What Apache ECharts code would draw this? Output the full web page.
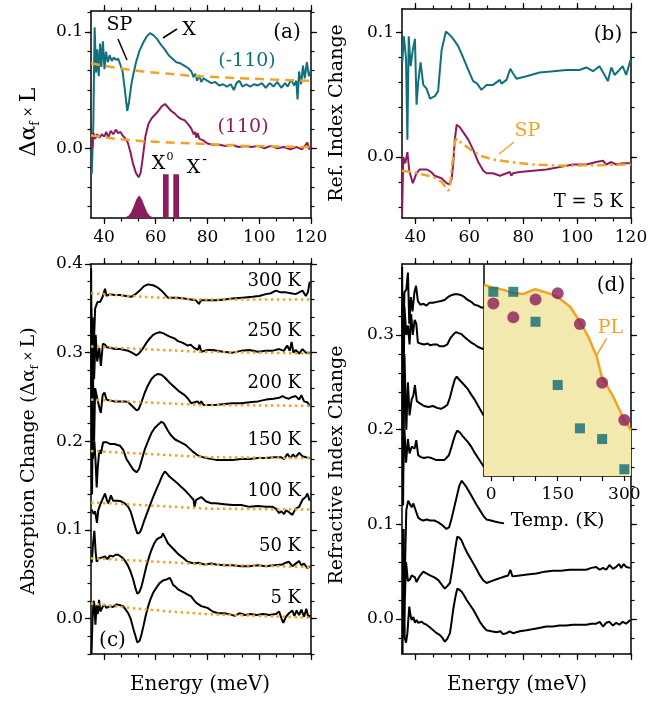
<!DOCTYPE html>
<html>
<head>
<meta charset="utf-8">
<script src="https://cdn.jsdelivr.net/npm/echarts@6/dist/echarts.min.js"></script>
<style>
  body { margin: 0; background: #fff; }
  #chart { width: 672px; height: 702px; }
</style>
</head>
<body>
<div id="chart"></div>
<script>
// ---- data ----
// (a) absorption change at 5 K, energy (meV) vs value
const aTeal = [[35.3,-0.022],[35.9,0.02],[36.4,0.104],[37.0,0.065],[37.4,0.085],[38.0,0.062],[38.5,0.090],[39.0,0.070],[39.6,0.092],[40.2,0.068],[40.8,0.083],[41.5,0.074],[42.2,0.080],[43.0,0.075],[43.8,0.078],[44.6,0.076],[45.5,0.077],[46.3,0.072],[47.2,0.066],[48.1,0.050],[49.0,0.032],[49.7,0.040],[50.6,0.055],[51.4,0.064],[52.4,0.074],[53.6,0.083],[55.0,0.090],[56.5,0.096],[57.8,0.099],[59.2,0.097],[60.5,0.094],[62.0,0.089],[63.5,0.085],[65.0,0.080],[66.5,0.077],[68.0,0.074],[69.5,0.073],[71.0,0.071],[72.5,0.069],[73.8,0.066],[74.6,0.061],[75.3,0.064],[76.0,0.058],[76.8,0.063],[77.6,0.057],[78.5,0.060],[80.0,0.058],[81.5,0.056],[83.0,0.057],[84.5,0.054],[86.0,0.055],[87.5,0.053],[89.0,0.055],[90.2,0.050],[91.2,0.056],[92.3,0.058],[93.5,0.053],[95.0,0.055],[96.5,0.053],[98.0,0.055],[99.5,0.054],[101.0,0.056],[102.5,0.052],[104.0,0.056],[105.5,0.053],[107.0,0.057],[108.5,0.052],[110.0,0.056],[111.0,0.053],[112.3,0.059],[113.5,0.054],[114.3,0.058],[114.8,0.042],[115.4,0.066],[116.2,0.055],[116.9,0.071],[117.6,0.060],[118.4,0.074],[119.2,0.062],[120,0.067]];
const aPurple = [[35.5,0.0],[36.0,0.013],[36.6,0.008],[37.4,0.012],[38.3,0.009],[39.2,0.012],[40.1,0.010],[40.9,0.014],[41.7,0.009],[42.6,0.015],[43.6,0.012],[44.6,0.016],[45.5,0.013],[46.4,0.014],[47.2,0.011],[48.1,0.009],[49.2,0.005],[50.2,-0.003],[51.2,-0.013],[52.3,-0.021],[53.4,-0.025],[54.2,-0.021],[55.0,-0.008],[56.0,0.010],[57.2,0.021],[58.5,0.026],[59.8,0.029],[61.0,0.032],[62.3,0.036],[63.6,0.038],[64.8,0.035],[66.0,0.032],[67.3,0.030],[68.6,0.027],[69.9,0.025],[71.2,0.024],[72.4,0.021],[73.7,0.017],[74.7,0.012],[75.2,0.014],[75.7,0.009],[76.2,0.013],[76.9,0.008],[78.2,0.007],[80.0,0.004],[82.0,0.003],[84.5,0.003],[87.0,0.002],[89.5,0.003],[92.0,0.001],[94.5,0.002],[97.0,0.001],[99.5,0.002],[102.0,0.000],[104.5,0.002],[107.0,0.000],[109.5,0.001],[112.0,-0.001],[114.5,0.001],[116.5,-0.001],[118.0,0.003],[118.6,0.005],[119.3,-0.001],[120,0.002]];
const aTealSP = [[35,0.073],[45,0.069],[55,0.066],[65,0.064],[75,0.062],[85,0.061],[95,0.060],[105,0.059],[120,0.058]];
const aPurpleSP = [[35,0.011],[45,0.008],[55,0.006],[65,0.005],[75,0.004],[85,0.003],[95,0.002],[105,0.0015],[120,0.001]];
const aPL = [[46.5,-0.06],[48,-0.0595],[49.5,-0.058],[50.5,-0.055],[51.5,-0.050],[52.5,-0.044],[53.6,-0.0405],[54.7,-0.044],[55.7,-0.050],[56.7,-0.055],[57.7,-0.058],[59,-0.0595],[60.5,-0.06]];
const aX0 = [[62.8,-0.06],[62.8,-0.0224],[65.0,-0.0224],[65.0,-0.06]];
const aXm = [[66.8,-0.06],[66.8,-0.0224],[69.0,-0.0224],[69.0,-0.06]];

// (b) refractive index change at 5 K
const bTeal = [[35.1,0.076],[35.7,0.097],[36.5,0.079],[37.0,0.014],[37.5,0.097],[38.2,0.073],[39.0,0.086],[39.8,0.095],[40.4,0.042],[41.0,0.060],[41.9,0.076],[42.9,0.058],[44.1,0.055],[45.4,0.047],[47.2,0.049],[48.4,0.053],[49.7,0.086],[51.3,0.101],[52.8,0.098],[54.0,0.095],[55.9,0.089],[57.7,0.080],[59.6,0.070],[61.4,0.061],[62.9,0.059],[64.5,0.054],[66.4,0.058],[68.8,0.058],[71.3,0.062],[71.9,0.059],[73.8,0.062],[75.2,0.071],[76.0,0.068],[77.5,0.063],[81.2,0.065],[86.1,0.068],[91.1,0.069],[96.0,0.070],[100.9,0.070],[103.4,0.072],[105.9,0.069],[108.3,0.073],[110.2,0.066],[111.4,0.061],[112.7,0.072],[113.9,0.066],[115.7,0.070],[116.9,0.073],[118.2,0.066],[119.8,0.078]];
const bPurple = [[35.0,-0.048],[35.5,0.0],[36.2,-0.005],[37.0,0.004],[37.7,-0.011],[39.0,-0.021],[40.4,-0.013],[41.6,-0.010],[44.1,-0.010],[45.8,-0.012],[47.1,-0.015],[49.7,-0.017],[51.6,-0.021],[52.5,-0.022],[53.4,-0.018],[54.0,-0.006],[54.6,0.014],[55.3,0.026],[56.5,0.024],[57.7,0.020],[59.6,0.014],[61.4,0.006],[63.3,-0.004],[65.2,-0.011],[66.4,-0.013],[68.8,-0.013],[71.3,-0.015],[73.8,-0.013],[75.0,-0.012],[75.6,-0.015],[76.2,-0.013],[78.7,-0.012],[83.6,-0.011],[88.6,-0.010],[93.5,-0.008],[98.5,-0.006],[103.4,-0.006],[107.1,-0.004],[109.6,-0.003],[110.8,-0.006],[112.7,-0.004],[114.5,-0.006],[116.9,-0.005],[119.8,-0.005]];
const bSP = [[34.9,-0.011],[39.0,-0.012],[42.7,-0.014],[46.5,-0.016],[49.7,-0.020],[52.2,-0.027],[52.8,-0.025],[53.4,-0.010],[54.0,0.0],[54.6,0.012],[55.3,0.015],[56.7,0.012],[60.4,0.006],[64.1,0.001],[69.0,-0.002],[75.2,-0.004],[83.8,-0.006],[96.2,-0.007],[120,-0.006]];

// (c) absorption change vs temperature (offset curves)
const c300 = [[35.05,0.395],[35.3,0.260],[35.6,0.340],[36.0,0.300],[36.6,0.350],[37.5,0.357],[38.5,0.357],[39.5,0.363],[40.4,0.372],[41.0,0.364],[42.3,0.366],[44.0,0.365],[46.2,0.365],[48.5,0.364],[50.5,0.363],[52.2,0.366],[53.8,0.370],[55.5,0.375],[57.0,0.377],[59.0,0.376],[60.5,0.374],[62.2,0.370],[63.5,0.366],[64.7,0.362],[66.5,0.362],[68.5,0.362],[71.0,0.361],[73.5,0.360],[75.5,0.359],[76.7,0.355],[77.5,0.359],[79.5,0.359],[83.3,0.359],[86.5,0.360],[89.7,0.361],[93.5,0.362],[97.4,0.363],[100.0,0.364],[102.6,0.366],[104.5,0.367],[106.4,0.370],[108.3,0.368],[110.3,0.368],[112.2,0.367],[114.1,0.366],[115.4,0.368],[116.7,0.370],[118.0,0.364],[118.8,0.368],[119.5,0.380]];
const c250 = [[35.1,0.350],[35.4,0.210],[35.8,0.330],[36.2,0.270],[36.8,0.320],[37.4,0.290],[38.2,0.305],[38.8,0.285],[39.6,0.310],[40.4,0.309],[41.2,0.306],[43.0,0.305],[44.5,0.304],[46.2,0.304],[48.1,0.303],[49.4,0.302],[50.8,0.300],[52.6,0.297],[53.8,0.300],[55.1,0.305],[56.4,0.311],[57.7,0.316],[59.0,0.320],[60.3,0.322],[61.5,0.323],[62.8,0.322],[64.1,0.320],[65.4,0.318],[67.3,0.316],[68.6,0.313],[70.5,0.311],[72.4,0.308],[73.5,0.309],[75.0,0.305],[76.3,0.303],[76.9,0.309],[77.6,0.301],[80.0,0.303],[82.0,0.303],[86.0,0.301],[89.7,0.300],[93.0,0.302],[96.2,0.303],[99.5,0.301],[102.6,0.302],[105.0,0.302],[107.7,0.304],[109.5,0.302],[110.8,0.308],[111.8,0.302],[112.5,0.312],[113.2,0.300],[114.1,0.303],[115.4,0.299],[116.7,0.304],[118.0,0.300],[119.5,0.300]];
const c200 = [[35.1,0.290],[35.4,0.140],[35.8,0.270],[36.2,0.200],[36.6,0.260],[37.3,0.250],[38.2,0.238],[38.8,0.232],[39.5,0.252],[40.2,0.255],[41.0,0.247],[42.3,0.246],[44.0,0.245],[46.2,0.245],[48.1,0.245],[49.4,0.244],[50.8,0.240],[52.6,0.235],[53.4,0.236],[54.5,0.244],[55.8,0.255],[57.0,0.263],[58.3,0.270],[59.6,0.274],[60.9,0.276],[62.2,0.275],[63.5,0.272],[65.4,0.266],[67.3,0.261],[69.2,0.256],[71.2,0.252],[72.5,0.248],[73.7,0.243],[75.0,0.244],[76.2,0.245],[76.9,0.242],[77.6,0.245],[78.5,0.241],[81.0,0.241],[83.3,0.241],[86.5,0.242],[89.7,0.243],[93.0,0.243],[96.2,0.244],[99.5,0.245],[102.6,0.247],[105.5,0.248],[107.7,0.249],[109.0,0.251],[110.3,0.249],[111.5,0.248],[112.8,0.250],[114.1,0.251],[115.4,0.247],[116.3,0.252],[117.3,0.245],[118.6,0.244],[119.5,0.240]];
const c150 = [[35.2,0.215],[35.7,0.180],[36.3,0.200],[36.8,0.175],[37.2,0.148],[37.6,0.170],[38.2,0.190],[38.8,0.186],[39.7,0.199],[41.0,0.199],[42.3,0.197],[44.0,0.197],[46.2,0.195],[47.5,0.190],[48.7,0.180],[50.0,0.174],[51.3,0.168],[52.6,0.165],[53.6,0.169],[54.5,0.178],[55.8,0.191],[57.0,0.200],[58.3,0.209],[59.6,0.215],[61.0,0.219],[62.2,0.222],[63.2,0.220],[64.5,0.213],[65.8,0.207],[67.5,0.202],[69.5,0.199],[71.5,0.196],[73.0,0.192],[74.5,0.188],[75.8,0.185],[77.2,0.183],[79.5,0.181],[83.3,0.179],[86.5,0.179],[89.7,0.179],[93.0,0.180],[96.2,0.180],[99.5,0.181],[102.6,0.181],[105.8,0.182],[108.3,0.182],[109.6,0.180],[110.9,0.186],[112.0,0.181],[113.0,0.185],[114.1,0.182],[115.4,0.187],[116.7,0.183],[118.0,0.182],[119.5,0.181]];
const c100 = [[35.3,0.123],[36.0,0.118],[36.6,0.121],[37.3,0.108],[37.8,0.122],[38.5,0.128],[39.5,0.135],[40.4,0.141],[41.2,0.133],[41.7,0.130],[42.7,0.139],[43.5,0.133],[44.2,0.132],[45.5,0.133],[46.8,0.132],[48.0,0.130],[49.4,0.126],[50.4,0.120],[51.3,0.111],[52.2,0.102],[52.9,0.096],[53.8,0.097],[54.5,0.101],[55.5,0.110],[56.4,0.117],[57.7,0.127],[59.0,0.137],[60.3,0.146],[61.5,0.154],[62.5,0.161],[63.5,0.166],[64.5,0.163],[65.4,0.160],[67.0,0.156],[68.6,0.152],[70.0,0.148],[71.2,0.145],[72.5,0.141],[73.7,0.137],[74.6,0.134],[75.0,0.126],[75.6,0.134],[76.3,0.136],[77.6,0.137],[79.5,0.132],[81.5,0.130],[83.3,0.130],[86.5,0.129],[89.7,0.128],[93.0,0.128],[96.2,0.126],[99.5,0.127],[102.6,0.126],[105.2,0.126],[106.4,0.124],[107.7,0.119],[108.5,0.121],[109.6,0.118],[110.3,0.122],[111.5,0.120],[112.8,0.117],[114.1,0.124],[115.4,0.126],[116.7,0.134],[117.9,0.137],[118.6,0.141],[119.5,0.133]];
const c50 = [[35.3,0.063],[35.8,0.085],[36.3,0.099],[36.8,0.075],[37.2,0.064],[38.0,0.068],[38.5,0.066],[39.3,0.069],[40.4,0.070],[41.3,0.067],[42.3,0.071],[43.5,0.070],[44.5,0.072],[45.5,0.072],[46.5,0.070],[47.4,0.068],[48.4,0.064],[49.4,0.059],[50.4,0.052],[51.3,0.044],[52.2,0.034],[52.9,0.028],[53.7,0.030],[54.5,0.036],[55.5,0.048],[56.4,0.059],[57.4,0.069],[58.3,0.077],[59.3,0.084],[60.3,0.089],[61.3,0.091],[62.2,0.092],[62.8,0.096],[63.7,0.091],[64.7,0.085],[66.0,0.081],[67.3,0.077],[68.6,0.073],[69.9,0.070],[71.2,0.067],[72.4,0.064],[73.7,0.063],[75.0,0.062],[76.5,0.063],[78.8,0.061],[81.5,0.062],[83.3,0.061],[86.5,0.060],[89.7,0.060],[93.0,0.059],[96.2,0.059],[99.5,0.060],[102.6,0.059],[105.8,0.060],[109.0,0.061],[110.3,0.063],[111.5,0.064],[112.8,0.059],[114.1,0.062],[115.4,0.065],[116.3,0.060],[117.3,0.062],[118.6,0.057],[119.5,0.059]];
const c5 = [[35.2,-0.039],[35.6,0.000],[36.0,0.020],[36.3,0.016],[36.7,-0.007],[37.2,0.015],[37.6,0.005],[38.1,0.021],[38.6,0.008],[39.1,0.010],[40.0,0.016],[41.0,0.012],[42.3,0.014],[43.5,0.013],[44.9,0.016],[46.2,0.015],[47.4,0.014],[48.4,0.010],[49.4,0.006],[50.3,0.000],[51.3,-0.011],[52.2,-0.020],[52.9,-0.027],[53.8,-0.025],[54.5,-0.018],[55.3,-0.008],[56.2,0.004],[57.1,0.014],[58.0,0.022],[59.0,0.029],[60.3,0.035],[61.5,0.040],[62.8,0.043],[64.1,0.044],[65.4,0.046],[66.0,0.043],[66.7,0.038],[67.6,0.036],[68.6,0.033],[69.9,0.031],[71.2,0.029],[72.4,0.027],[73.7,0.025],[74.7,0.021],[75.6,0.018],[76.6,0.016],[77.6,0.014],[78.8,0.013],[80.0,0.012],[82.0,0.008],[84.0,0.006],[86.5,0.006],[88.5,0.005],[90.5,0.003],[92.5,0.006],[94.5,0.004],[96.5,0.005],[99.0,0.004],[101.5,0.005],[104.0,0.004],[106.4,0.005],[107.7,0.008],[108.6,0.000],[109.3,-0.005],[110.3,0.002],[111.5,0.006],[112.8,0.009],[113.6,0.003],[114.4,0.009],[115.4,0.004],[116.3,0.010],[117.3,0.002],[118.2,0.011],[119.0,0.001],[119.5,0.004]];
const cSP300 = [[35,0.367],[55,0.363],[77,0.360],[120,0.360]];
const cSP250 = [[35,0.307],[55,0.304],[77,0.301],[120,0.299]];
const cSP200 = [[35,0.247],[55,0.244],[77,0.241],[120,0.240]];
const cSP150 = [[35,0.189],[55,0.186],[80,0.182],[120,0.181]];
const cSP100 = [[35,0.131],[55,0.128],[80,0.124],[120,0.123]];
const cSP50 = [[35,0.068],[55,0.065],[80,0.061],[120,0.058]];
const cSP5 = [[35,0.017],[50,0.012],[65,0.008],[80,0.005],[100,0.003],[120,0.001]];
const cTemps = ['300 K', '250 K', '200 K', '150 K', '100 K', '50 K', '5 K'];

// (d) refractive index change vs temperature (offset curves)
const d300 = [[35.05,0.372],[35.3,0.260],[35.9,0.345],[36.6,0.348],[37.2,0.366],[37.7,0.312],[38.3,0.340],[38.9,0.325],[39.6,0.345],[40.2,0.352],[40.9,0.336],[41.8,0.332],[43.0,0.333],[44.0,0.331],[45.2,0.334],[46.5,0.334],[48.0,0.335],[49.5,0.336],[50.8,0.337],[52.0,0.340],[53.3,0.342],[54.5,0.343],[55.7,0.343],[57.0,0.342],[58.2,0.340],[59.4,0.337],[60.7,0.335],[61.9,0.332],[63.2,0.331],[64.5,0.329],[65.3,0.329]];
const d250 = [[35.1,0.330],[35.4,0.190],[35.9,0.330],[36.6,0.300],[37.2,0.310],[37.8,0.290],[38.4,0.322],[39.0,0.300],[39.7,0.316],[40.3,0.312],[40.9,0.292],[41.8,0.291],[43.2,0.290],[44.5,0.291],[45.5,0.289],[46.6,0.290],[47.9,0.290],[49.1,0.288],[50.5,0.288],[51.8,0.290],[53.0,0.297],[54.2,0.301],[55.1,0.303],[56.0,0.302],[57.0,0.301],[58.2,0.298],[59.4,0.295],[60.7,0.292],[61.9,0.290],[63.5,0.287],[65.3,0.285]];
const d200 = [[35.1,0.260],[35.4,0.120],[35.9,0.280],[36.6,0.200],[37.2,0.250],[37.8,0.215],[38.6,0.232],[39.2,0.236],[39.8,0.247],[40.5,0.230],[41.5,0.228],[43.2,0.225],[44.8,0.224],[46.5,0.225],[48.0,0.223],[49.5,0.222],[50.8,0.224],[51.8,0.226],[52.8,0.234],[53.8,0.245],[54.6,0.253],[55.3,0.256],[56.2,0.253],[57.5,0.249],[59.4,0.243],[60.7,0.237],[61.9,0.232],[63.5,0.224],[65.3,0.215]];
const d150 = [[35.3,0.150],[35.9,0.200],[36.5,0.165],[37.2,0.190],[37.8,0.175],[38.6,0.182],[39.7,0.180],[40.3,0.189],[41.0,0.173],[42.0,0.171],[43.2,0.170],[44.5,0.171],[46.0,0.170],[47.5,0.168],[49.0,0.168],[50.8,0.168],[52.4,0.173],[53.3,0.181],[54.0,0.188],[54.8,0.195],[55.5,0.199],[56.5,0.197],[57.6,0.193],[59.4,0.187],[60.7,0.182],[61.9,0.176],[63.5,0.169],[65.3,0.161]];
const d100 = [[35.3,0.080],[35.9,0.030],[36.6,0.115],[37.3,0.125],[38.0,0.121],[38.6,0.118],[39.2,0.122],[39.8,0.121],[40.4,0.112],[41.0,0.107],[42.0,0.105],[42.9,0.104],[44.2,0.105],[45.4,0.104],[47.0,0.104],[48.5,0.102],[50.0,0.099],[51.5,0.095],[52.5,0.097],[53.4,0.106],[54.4,0.118],[55.3,0.129],[56.2,0.140],[57.1,0.146],[58.0,0.143],[59.0,0.139],[60.2,0.133],[61.4,0.127],[62.6,0.121],[63.9,0.115],[65.2,0.109],[66.4,0.105],[68.0,0.104],[69.4,0.103],[71.0,0.102],[72.9,0.101]];
const d50 = [[35.3,0.095],[35.8,0.0],[36.5,0.060],[37.2,0.040],[38.0,0.042],[38.6,0.046],[39.2,0.048],[39.8,0.044],[40.4,0.039],[41.5,0.045],[42.9,0.050],[44.2,0.048],[45.4,0.046],[47.0,0.044],[48.5,0.041],[49.8,0.036],[50.9,0.032],[51.9,0.035],[52.8,0.038],[53.5,0.050],[54.0,0.059],[54.8,0.075],[55.5,0.087],[56.3,0.086],[57.1,0.083],[58.0,0.077],[59.0,0.071],[60.2,0.065],[61.4,0.059],[62.6,0.053],[63.9,0.046],[65.1,0.041],[66.4,0.038],[68.2,0.040],[70.1,0.042],[72.2,0.044],[74.4,0.046],[75.2,0.052],[76.0,0.045],[78.7,0.046],[81.5,0.047],[84.9,0.048],[88.0,0.050],[91.0,0.051],[94.0,0.051],[97.2,0.052],[100.3,0.052],[103.4,0.052],[105.3,0.054],[107.1,0.055],[108.4,0.052],[109.6,0.054],[110.8,0.052],[112.0,0.057],[113.3,0.053],[114.5,0.055],[115.5,0.058],[116.4,0.054],[117.3,0.058],[118.2,0.055],[119.7,0.054]];
const d5 = [[35.2,-0.037],[35.6,0.095],[36.0,-0.020],[36.5,-0.025],[37.0,-0.015],[37.7,0.013],[38.2,0.003],[38.6,-0.001],[39.2,0.002],[39.8,-0.004],[40.4,-0.001],[41.0,-0.004],[42.3,-0.003],[43.2,-0.005],[44.1,-0.006],[45.4,-0.009],[46.6,-0.012],[47.9,-0.015],[49.1,-0.017],[50.0,-0.020],[50.9,-0.024],[51.8,-0.021],[52.8,-0.015],[53.4,-0.003],[54.0,0.010],[54.8,0.023],[55.5,0.032],[56.3,0.031],[57.1,0.029],[58.0,0.025],[59.0,0.020],[60.2,0.015],[61.4,0.010],[62.6,0.004],[63.9,-0.003],[65.1,-0.008],[66.4,-0.012],[68.2,-0.013],[70.1,-0.014],[71.5,-0.013],[72.5,-0.016],[73.8,-0.015],[75.0,-0.013],[76.2,-0.015],[78.7,-0.013],[81.2,-0.012],[84.9,-0.010],[88.6,-0.008],[91.0,-0.008],[93.5,-0.007],[96.0,-0.007],[98.5,-0.006],[101.0,-0.006],[103.4,-0.006],[105.3,-0.005],[107.1,-0.005],[108.4,-0.003],[109.6,-0.008],[110.8,-0.004],[112.0,-0.003],[113.3,-0.007],[114.5,-0.004],[115.7,-0.006],[116.9,-0.003],[118.2,-0.005],[119.7,-0.001]];

// (d) inset: amplitude vs temperature (normalised to inset height)
const insetTemps = [5, 50, 100, 150, 200, 250, 300];
const insetSquares = [0.873, 0.873, 0.731, 0.431, 0.226, 0.175, 0.032];
const insetCircles = [0.818, 0.752, 0.837, 0.866, 0.720, 0.442, 0.265];
const insetPL = [[-16,0.905],[3,0.894],[28,0.882],[48,0.869],[73,0.863],[99,0.885],[125,0.869],[149,0.850],[178,0.802],[200,0.731],[219,0.660],[238,0.565],[249,0.471],[275,0.376],[300,0.265],[315,0.218]];

// tick values
const eMajor = [40, 60, 80, 100, 120];
const tMajor = [0, 50, 100, 150, 200, 250, 300];
const tLabels = [0, 150, 300];

// ---- styling ----
const FONT = 'DejaVu Serif';
const TEAL = '#11707d';
const PURPLE = '#8c1d5d';
const ORANGE = '#f2a321';
const FILL = '#f3e8ad';

function steps(from, to, step) {
  const out = [];
  for (let i = 0; from + i * step <= to + 1e-9; i++) out.push(+(from + i * step).toFixed(5));
  return out;
}
const eMinor = steps(40, 120, 20 / 3);

const xAxes = [], yAxes = [];

function axis(gi, pos, min, max, ticks, len, labels, showLine, fmt) {
  return {
    type: 'value', gridIndex: gi, position: pos, min: min, max: max,
    axisLine: { show: showLine, onZero: false, lineStyle: { color: '#000', width: 1.5 } },
    axisTick: { show: true, customValues: ticks, length: len, lineStyle: { color: '#000', width: 1.2 } },
    axisLabel: labels ? {
      show: true, customValues: labels, formatter: fmt, color: '#000',
      fontFamily: FONT, fontSize: 17, margin: pos === 'left' ? 8 : 11
    } : { show: false },
    splitLine: { show: false }
  };
}

function box(gi, xr, xMaj, xMin, xLab, yr, yMaj, yMin, yLab) {
  const xi = xAxes.length, yi = yAxes.length;
  xAxes.push(axis(gi, 'bottom', xr[0], xr[1], xMaj, 6, xLab, true, v => String(v)));
  xAxes.push(axis(gi, 'bottom', xr[0], xr[1], xMin, 3.5, null, false));
  xAxes.push(axis(gi, 'top', xr[0], xr[1], xMaj, 6, null, true));
  xAxes.push(axis(gi, 'top', xr[0], xr[1], xMin, 3.5, null, false));
  yAxes.push(axis(gi, 'left', yr[0], yr[1], yMaj, 6, yLab, true, v => v.toFixed(1)));
  yAxes.push(axis(gi, 'left', yr[0], yr[1], yMin, 3.5, null, false));
  yAxes.push(axis(gi, 'right', yr[0], yr[1], yMaj, 6, null, true));
  yAxes.push(axis(gi, 'right', yr[0], yr[1], yMin, 3.5, null, false));
  return { x: xi, y: yi };
}

const A = box(0, [35, 120], eMajor, eMinor, eMajor, [-0.06, 0.118], [0, 0.1], steps(-0.05, 0.117, 0.1 / 6), [0, 0.1]);
const B = box(1, [35, 120], eMajor, eMinor, eMajor, [-0.049, 0.119], [0, 0.1], steps(-0.04, 0.1, 0.02), [0, 0.1]);
const C = box(2, [35, 120], eMajor, eMinor, null, [-0.04, 0.4], [0, 0.1, 0.2, 0.3, 0.4], steps(-0.04, 0.4, 0.02), [0, 0.1, 0.2, 0.3, 0.4]);
const D = box(3, [35, 120], eMajor, eMinor, null, [-0.037, 0.375], [0, 0.1, 0.2, 0.3], steps(-0.02, 0.36, 0.02), [0, 0.1, 0.2, 0.3]);

// inset axes
const IX = xAxes.length, IY = yAxes.length;
xAxes.push({
  type: 'value', gridIndex: 4, position: 'bottom', min: -16, max: 315,
  axisLine: { onZero: false, lineStyle: { color: '#000', width: 1.5 } },
  axisTick: { customValues: tMajor, length: 5, lineStyle: { color: '#000', width: 1.2 } },
  axisLabel: { customValues: tLabels, color: '#000', fontFamily: FONT, fontSize: 17, margin: 10 },
  splitLine: { show: false }
});
yAxes.push({
  type: 'value', gridIndex: 4, position: 'left', min: 0, max: 1,
  axisLine: { onZero: false, lineStyle: { color: '#000', width: 1.5 } },
  axisTick: { show: false }, axisLabel: { show: false }, splitLine: { show: false }
});

const series = [];
function line(ax, data, color, width, type, z) {
  series.push({
    type: 'line', xAxisIndex: ax.x, yAxisIndex: ax.y, data: data,
    showSymbol: false, symbol: 'none', z: z || 2,
    lineStyle: { color: color, width: width, type: type || 'solid' }
  });
}
function patch(ax, data, color) {
  series.push({
    type: 'line', xAxisIndex: ax.x, yAxisIndex: ax.y, data: data,
    showSymbol: false, symbol: 'none', lineStyle: { width: 0 },
    areaStyle: { color: color, opacity: 1, origin: 'start' }
  });
}

// (a)
patch(A, aPL, PURPLE);
patch(A, aX0, PURPLE);
patch(A, aXm, PURPLE);
line(A, aTeal, TEAL, 2);
line(A, aPurple, PURPLE, 2);
line(A, aTealSP, ORANGE, 2.5, [9, 6], 3);
line(A, aPurpleSP, ORANGE, 2.5, [9, 6], 3);
// (b)
line(B, bTeal, TEAL, 2);
line(B, bPurple, PURPLE, 2);
line(B, bSP, ORANGE, 2.5, [9, 4, 2.5, 4], 3);
// (c)
[cSP300, cSP250, cSP200, cSP150, cSP100, cSP50, cSP5].forEach(d => line(C, d, ORANGE, 2.5, [2.5, 3.5], 3));
[c300, c250, c200, c150, c100, c50, c5].forEach(d => line(C, d, '#000', 2));
// (d)
[d300, d250, d200, d150, d100, d50, d5].forEach(d => line(D, d, '#000', 2));
// inset
series.push({
  type: 'line', xAxisIndex: IX, yAxisIndex: IY, data: insetPL, showSymbol: false, symbol: 'none', z: 3,
  lineStyle: { color: ORANGE, width: 2.5 }, areaStyle: { color: FILL, opacity: 1, origin: 'start' }
});
series.push({
  type: 'scatter', xAxisIndex: IX, yAxisIndex: IY, z: 4, symbol: 'rect', symbolSize: 10,
  itemStyle: { color: '#0c6a76' }, data: insetTemps.map((t, i) => [t, insetSquares[i]])
});
series.push({
  type: 'scatter', xAxisIndex: IX, yAxisIndex: IY, z: 5, symbol: 'circle', symbolSize: 12,
  itemStyle: { color: '#8b1b5a' }, data: insetTemps.map((t, i) => [t, insetCircles[i]])
});

// ---- annotation helpers ----
function txt(t, x, y, size, color, align) {
  const a = align || 'center';
  return {
    type: 'text', x: x, y: y, z: 100,
    style: {
      text: t, font: size + 'px "' + FONT + '"', fontSize: size, fontFamily: FONT,
      fill: color || '#000', align: a, textAlign: a, verticalAlign: 'middle', textVerticalAlign: 'middle'
    }
  };
}
function seg(x1, y1, x2, y2, color) {
  return { type: 'line', z: 100, shape: { x1: x1, y1: y1, x2: x2, y2: y2 }, style: { stroke: color || '#000', lineWidth: 1.5 } };
}
const measure = document.createElement('canvas').getContext('2d');
function vlabel(parts, cx, cy) {
  let w = 0;
  parts.forEach(p => { measure.font = p.size + 'px "' + FONT + '"'; p.w = measure.measureText(p.t).width; w += p.w; });
  let x = -w / 2;
  const children = parts.map(p => {
    const el = txt(p.t, x, p.dy || 0, p.size, '#000', 'left');
    x += p.w;
    return el;
  });
  return { type: 'group', x: cx, y: cy, rotation: Math.PI / 2, children: children };
}

const graphics = [
  // (a)
  txt('SP', 119.5, 25, 19), seg(118, 39, 127, 60),
  txt('X', 189, 30, 19), seg(177, 29, 163, 38),
  txt('(-110)', 247, 61, 19, TEAL), txt('(110)', 243, 127, 19, PURPLE),
  txt('(a)', 287, 33, 20),
  txt('X', 158.5, 164, 19), txt('0', 170, 157, 11),
  txt('X', 193.5, 168, 19), txt('-', 204.5, 160, 14),
  // (b)
  txt('(b)', 608, 35, 20),
  txt('SP', 527.5, 131.5, 19, ORANGE), seg(514, 142, 499, 154, ORANGE),
  txt('T = 5 K', 623, 202, 18, '#000', 'right'),
  // (c)
  txt('(c)', 112.5, 641, 20),
  // (d)
  txt('(d)', 611, 286, 20),
  txt('PL', 610.5, 328.5, 19, ORANGE), seg(606.7, 338.3, 596.7, 355, ORANGE),
  txt('Temp. (K)', 557.5, 521, 19),
  // axis titles
  txt('Energy (meV)', 200, 685, 20), txt('Energy (meV)', 517, 685, 20),
  vlabel([{ t: 'Δα', size: 22 }, { t: 'f', size: 12, dy: 7 }, { t: ' × ', size: 13 }, { t: 'L', size: 22 }], 29, 122),
  vlabel([{ t: 'Absorption Change (Δα', size: 19 }, { t: 'f', size: 11, dy: 6 }, { t: ' × ', size: 12 }, { t: 'L)', size: 19 }], 29, 461),
  vlabel([{ t: 'Ref. Index Change', size: 19 }], 337, 113),
  vlabel([{ t: 'Refractive Index Change', size: 19 }], 337, 465)
];
const cY = [281, 331, 383.5, 440.5, 491.5, 546.5, 598.5];
cTemps.forEach((t, i) => graphics.push(txt(t, 301, cY[i], 18, '#000', 'right')));

const chart = echarts.init(document.getElementById('chart'), null, { renderer: 'canvas' });
chart.setOption({
  animation: false,
  backgroundColor: '#fff',
  grid: [
    { left: 91, top: 11, width: 220, height: 207 },
    { left: 402, top: 9, width: 229, height: 209 },
    { left: 91, top: 264, width: 220, height: 390 },
    { left: 402, top: 264, width: 229, height: 390 },
    { left: 484, top: 265, width: 147, height: 211 }
  ],
  xAxis: xAxes,
  yAxis: yAxes,
  series: series,
  graphic: graphics
});
</script>
</body>
</html>
